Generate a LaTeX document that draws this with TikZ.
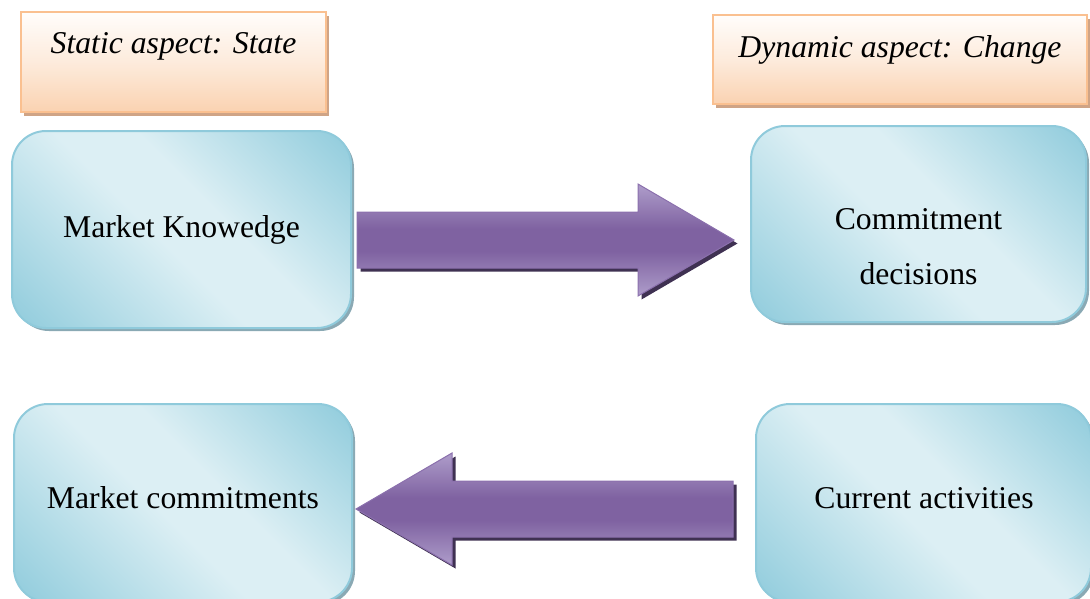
\documentclass[tikz,border=0pt]{standalone}
\usepackage{fontspec}
\setmainfont{Liberation Serif}
\usetikzlibrary{shadows}

% palette
\definecolor{bdark}{HTML}{93CDDD}
\definecolor{blight}{HTML}{DCEFF4}
\definecolor{bline}{HTML}{8FCADB}
\definecolor{bshadow}{HTML}{8AA9B4}
\definecolor{ptop}{HTML}{FFFDFB}
\definecolor{pmid}{HTML}{FDEBDC}
\definecolor{pbot}{HTML}{FAD2B1}
\definecolor{pline}{HTML}{FAC090}
\definecolor{pshadow}{HTML}{CFA486}
\definecolor{vdark}{HTML}{7F62A1}
\definecolor{vlight}{HTML}{AE9DCA}
\definecolor{vline}{HTML}{8B70AD}
\definecolor{vshadow}{HTML}{3F3152}

% diagonal dark-light-dark fill of the rounded boxes
\pgfdeclarehorizontalshading{boxshade}{100bp}{color(0bp)=(bdark); color(16bp)=(bdark); color(46bp)=(blight); color(57bp)=(blight); color(84bp)=(bdark); color(100bp)=(bdark)}
% peach fill of the heading boxes, pale at the top
\pgfdeclareverticalshading{labelshade}{100bp}{color(0bp)=(pbot); color(25bp)=(pbot); color(50bp)=(pmid); color(75bp)=(ptop); color(100bp)=(ptop)}
% purple fill of the block arrows, darkest along the middle
\pgfdeclareverticalshading{arrowshade}{100bp}{color(0bp)=(vlight); color(25bp)=(vlight); color(45bp)=(vdark); color(55bp)=(vdark); color(75bp)=(vlight); color(100bp)=(vlight)}

\tikzset{
  bluebox/.style={draw=bline, line width=2pt, rounded corners=34pt,
    shading=boxshade, shading angle=45, inner sep=0pt,
    drop shadow={shadow xshift=3pt, shadow yshift=-3pt, fill=bshadow, opacity=1}},
  labelbox/.style={draw=pline, line width=2pt, shading=labelshade, inner sep=0pt,
    drop shadow={shadow xshift=3pt, shadow yshift=-4pt, fill=pshadow, opacity=1}},
  boxtext/.style={font=\fontsize{31.7pt}{55pt}\selectfont, inner sep=0pt, align=center},
  labeltext/.style={font=\fontsize{31.7pt}{38pt}\selectfont\itshape, inner sep=0pt, anchor=base},
  blockarrow/.style={draw=vline, line width=1pt, shading=arrowshade,
    drop shadow={shadow xshift=3.5pt, shadow yshift=-3.5pt, fill=vshadow, opacity=1}}
}

\begin{document}
\begin{tikzpicture}[x=1pt, y=-1pt]
\useasboundingbox (0,0) rectangle (1090,598);
\clip (0,0) rectangle (1090,598);

% headings
\node[labelbox, minimum width=305pt, minimum height=100pt] (static) at (173.5,62) {};
\node[labeltext] (statictext) at (173.5,53) {Static aspect: State};
\node[labelbox, minimum width=374pt, minimum height=89pt] (dynamic) at (900,59.5) {};
\node[labeltext] (dynamictext) at (900,57) {Dynamic aspect: Change};

% boxes
\node[bluebox, minimum width=339pt, minimum height=197pt] (knowledge) at (181.5,229.5) {};
\node[boxtext, anchor=base] (knowledgetext) at (181.5,237) {Market Knowedge};

\node[bluebox, minimum width=335pt, minimum height=196pt] (decisions) at (918.5,224) {};
\node[boxtext] (decisionstext) at (918.5,247) {Commitment\\decisions};

\node[bluebox, minimum width=338pt, minimum height=198pt] (commitments) at (183,503) {};
\node[boxtext, anchor=base] (commitmentstext) at (183,508) {Market commitments};

\node[bluebox, minimum width=335pt, minimum height=198pt] (activities) at (923.5,503) {};
\node[boxtext, anchor=base] (activitiestext) at (924,508) {Current activities};

% block arrows
\path[blockarrow] (357,212) -- (638,212) -- (638,184) -- (734,240)
  -- (638,296) -- (638,268) -- (357,268) -- cycle;
\path[blockarrow] (733,481) -- (452,481) -- (452,453) -- (356,509)
  -- (452,565) -- (452,537) -- (733,537) -- cycle;
\end{tikzpicture}
\end{document}
